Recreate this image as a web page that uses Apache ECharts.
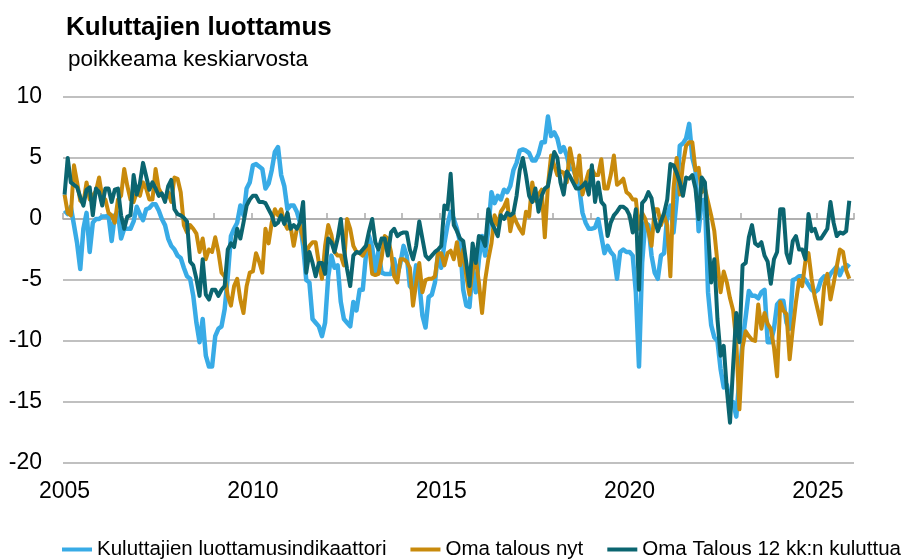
<!DOCTYPE html>
<html><head><meta charset="utf-8">
<script src="https://cdn.jsdelivr.net/npm/echarts@6/dist/echarts.min.js"></script>
<style>html,body{margin:0;padding:0;background:#fff}#c{width:907px;height:559px}</style>
</head><body><div id="c"></div>
<script>
const startYear = 2005, endYear = 2025;
const labelYears = ['2005', '2010', '2015', '2020', '2025'];
const titleText = 'Kuluttajien luottamus';
const subtitleText = 'poikkeama keskiarvosta';
const seriesNames = ['Kuluttajien luottamusindikaattori', 'Oma talous nyt', 'Oma Talous 12 kk:n kuluttua'];

// Monthly values 2005-01 .. 2025-11 (deviation from average)
const luottamus = [
  0.7, 0.4, 1.0, -0.5, -2.0, -4.1, -0.8, 0.5, -2.7, -0.3, 0.0, 0.0,
  0.2, 0.2, 0.3, -1.8, 0.3, 0.5, -1.6, -0.8, -0.8, -0.8, -0.2, 1.0,
  0.4, -0.1, 0.8, 0.9, 1.2, 1.2, 0.7, 0.0, -0.5, -1.6, -2.2, -2.5,
  -3.0, -3.2, -4.0, -4.7, -4.9, -6.3, -8.5, -10.1, -8.2, -11.2, -12.1, -12.1,
  -9.6, -9.0, -8.8, -7.4, -4.7, -1.4, -0.8, -0.3, 1.1, 0.3, 2.5, 3.0,
  4.4, 4.5, 4.3, 4.1, 2.5, 2.9, 4.0, 5.5, 5.9, 3.6, 2.7, 0.8,
  1.1, 1.1, 0.6, -0.3, -2.2, -5.0, -5.2, -8.2, -8.5, -8.8, -9.6, -8.5,
  -4.7, -3.0, -4.0, -3.8, -6.8, -8.2, -8.5, -8.8, -6.8, -7.5, -5.8, -5.8,
  -3.0, -1.4, -2.3, -4.4, -2.6, -4.4, -4.5, -4.5, -4.5, -3.3, -4.6, -3.6,
  -2.2, -3.0, -5.5, -5.8, -3.8, -5.2, -7.9, -8.9, -6.4, -6.2, -5.2, -2.7,
  -4.0, -2.0, -0.5, 0.6, 0.0, -0.8, -1.9, -5.8, -7.1, -7.2, -4.1, -6.0,
  -3.3, -1.4, -3.0, -0.8, 2.2, 1.3, 1.9, 1.6, 2.4, 2.2, 2.7, 4.0,
  4.6, 5.6, 5.7, 5.6, 5.4, 4.8, 4.8, 5.3, 6.3, 6.3, 8.4, 6.8,
  7.1, 6.6, 5.5, 5.9, 5.2, 4.1, 4.1, 3.4, 2.5, 0.5, -0.3, -0.8,
  -0.8, -0.7, 0.0, -1.4, -2.8, -2.2, -2.7, -3.0, -4.9, -2.7, -2.5, -2.7,
  -2.7, -3.0, -6.0, -12.1, -3.6, -0.3, -0.5, -3.0, -4.4, -4.9, -3.0, -2.8,
  0.3, 1.1, -1.1, 1.6, 6.0, 6.2, 6.6, 7.8, 5.0, 4.0, -1.0, 1.5,
  1.6, -6.0, -8.7, -9.7, -10.0, -12.3, -13.8, -13.6, -15.0, -15.0, -16.2, -13.0,
  -10.0, -8.0, -5.9, -6.3, -6.3, -6.5, -6.0, -5.8, -10.1, -10.1, -9.0, -7.0,
  -6.7, -6.7, -8.5, -9.0, -5.0, -4.9, -4.7, -4.7, -5.0, -5.4, -5.8, -6.0,
  -5.8, -5.0, -4.7, -5.0, -4.5, -4.2, -3.9, -4.6, -4.0, -4.0, -3.7
];
const omaTalousNyt = [
  2.0, 0.5, 0.3, 4.4, 3.0, 1.5, 1.3, 3.0, 1.6, 1.9, 2.3, 3.4,
  1.8, 1.6, 0.5, 0.3, -0.3, 1.6, 1.9, 4.1, 2.7, 1.6, 1.4, 2.2,
  1.9, 3.0, 2.5, 1.6, 1.6, 4.1, 2.5, 2.0, 1.6, 2.2, 1.4, 3.4,
  3.3, 2.2, -0.5, -1.1, -0.5, -0.8, -1.2, -2.7, -1.6, -3.3, -2.5, -2.7,
  -1.5, -2.7, -4.4, -4.7, -6.3, -7.1, -5.5, -4.9, -6.6, -7.7, -5.5, -4.4,
  -4.3, -2.8, -3.5, -4.4, -0.8, -2.0, -0.3, 0.8, 0.3, 0.8, -0.3, -0.8,
  -0.6, -2.2, -0.8, -0.5, -1.6, -2.7, -2.2, -1.9, -1.9, -3.6, -4.9, -2.2,
  -0.5, -1.3, -2.7, -3.0, -3.0, -3.8, 0.0, -0.8, -2.2, -2.7, -2.8, -3.0,
  -2.5, -2.2, -4.5, -4.6, -4.5, -3.2, -1.4, -1.6, -2.7, -4.7, -5.2, -3.3,
  -3.3, -3.5, -4.0, -7.1, -5.3, -3.6, -6.0, -5.0, -4.9, -4.9, -4.7, -2.8,
  -2.8, -3.8, -2.8, -2.6, -3.3, -1.9, -3.8, -2.5, -4.7, -6.2, -4.2, -3.2,
  -5.2, -7.7, -5.0, -3.3, -2.0, 0.3, -0.5, 0.6, 1.0, 1.6, -1.0, 0.3,
  -0.3, -0.8, -1.2, 0.6, 0.2, 3.0, 1.5, 2.0, 2.4, -1.5, 2.8, 5.2,
  4.4, 3.6, 3.9, 3.8, 3.0, 5.8, 4.5, 3.0, 5.2, 2.0, 3.0, 3.9,
  4.1, 3.6, 3.6, 4.9, 2.5, 2.5, 3.6, 5.2, 2.8, 3.0, 3.3, 2.2,
  2.0, 1.6, 1.6, -0.8, 0.5, 0.0, -1.0, -2.2, 0.8, 0.8, -0.5, 0.3,
  -0.5, -4.7, 2.5, 5.0, 2.0, 4.5, 6.0, 6.3, 6.3, 4.0, 4.2, 2.2,
  2.5, 1.4, 0.3, -1.0, -3.6, -6.0, -4.3, -5.2, -6.5, -7.5, -10.1, -15.6,
  -10.5, -9.2, -9.6, -9.9, -10.0, -7.0, -9.0, -7.7, -8.6, -9.0, -10.5, -12.9,
  -6.8, -7.5, -7.8, -11.5, -9.0, -6.8, -5.0, -5.5, -3.5, -2.8, -4.9, -6.4,
  -7.5, -8.6, -5.5, -4.5, -6.6, -5.3, -3.9, -2.5, -2.7, -4.2, -4.9
];
const omaTalous12kk = [
  2.0, 5.0, 3.0, 2.8, 2.6, 1.8, 1.1, 2.4, 2.6, 0.3, 2.5, 2.2,
  1.1, 2.5, 2.5, 1.4, 2.4, 2.5, 0.3, -0.8, 0.2, 0.3, 3.6, 2.0,
  2.9, 4.6, 3.5, 2.4, 3.0, 2.5, 1.9, 2.1, 1.4, 2.7, 3.2, 0.8,
  0.4, 0.3, 0.1, -0.2, -3.5, -3.8, -4.9, -6.3, -3.3, -6.2, -6.6, -5.8,
  -5.8, -6.3, -5.8, -5.5, -2.5, -2.0, -2.3, -0.8, -1.6, -0.3, 1.1, 1.6,
  1.9, 1.9, 1.4, 1.4, 1.3, 0.8, 0.3, -0.5, -0.3, 0.3, -0.4, 0.5,
  -0.8, -0.5, -0.8, -0.3, 1.4, -4.4, -2.7, -3.6, -4.7, -3.6, -3.6, -4.5,
  -1.6, -1.9, -2.7, -1.6, 0.0, -2.5, -4.1, -5.5, -3.0, -2.7, -2.8, -2.5,
  -2.2, -1.0, 0.0, -1.9, -2.5, -1.6, -1.6, -3.0, -1.1, -0.8, -1.4, -1.2,
  -1.1, -1.1, -2.5, -3.3, -2.2, -0.2, -1.6, -3.0, -3.3, -3.0, -2.7, -2.5,
  -2.2, 1.1, 0.8, 3.7, -0.5, -1.0, -1.6, -1.8, -3.6, -5.5, -2.0, -3.6,
  -1.4, -1.5, -2.2, 0.8, -0.3, -0.8, -1.4, 0.3, 0.0, 0.5, 0.3, 0.5,
  1.9, 4.0, 5.0, 3.6, 1.9, 1.4, 2.5, 0.6, 1.9, 2.5, 2.7, 4.1,
  5.5, 5.0, 3.0, 2.0, 3.9, 3.5, 3.0, 2.5, 2.5, 2.7, 3.0, 2.0,
  4.4, 1.4, 3.0, 1.4, 1.1, -1.4, -0.3, 0.3, 0.6, 1.0, 1.0, 0.8,
  0.3, -1.1, 0.8, -5.8, 1.3, 1.6, 2.2, 1.7, 0.0, -1.0, -0.2, 0.5,
  1.6, 4.5, 4.4, 3.8, 3.0, 1.9, 3.4, 3.3, 3.6, 2.5, 0.0, 3.4,
  3.0, -1.0, -5.2, -3.3, -8.2, -11.2, -10.4, -14.0, -16.7, -12.0, -7.7, -10.1,
  -3.8, -3.6, -1.5, -0.5, -2.0, -2.2, -1.9, -3.0, -3.5, -5.3, -3.3, -2.7,
  0.8, 0.8, -2.8, -3.6, -1.8, -1.4, -2.5, -2.5, -3.3, 0.4, -1.0, -0.8,
  -1.6, -1.6, -1.2, -0.8, 1.4, -0.3, -1.4, -1.1, -1.2, -1.0, 1.5
];

const months = [];
for (let y = startYear; y <= endYear; y++) {
  for (let m = 1; m <= 12; m++) months.push(y + '-' + String(m).padStart(2, '0'));
}

const FONT = '"Liberation Sans", Arial, sans-serif';
const colors = ['#38abe6', '#c88a0c', '#0b6570'];
const gridColor = '#ababab';

const chart = echarts.init(document.getElementById('c'), null, {renderer: 'canvas'});
chart.setOption({
  animation: false,
  backgroundColor: '#ffffff',
  textStyle: {fontFamily: FONT},
  title: [
    {text: titleText, left: 61, top: 10,
     textStyle: {fontFamily: FONT, fontSize: 26, fontWeight: 'bold', color: '#000'}},
    {text: subtitleText, left: 63, top: 43,
     textStyle: {fontFamily: FONT, fontSize: 22.5, fontWeight: 'normal', color: '#000'}}
  ],
  legend: {
    data: seriesNames,
    left: 62, top: 539, width: 900, padding: 0,
    icon: 'rect', itemWidth: 30, itemHeight: 4, itemGap: 24,
    textStyle: {fontFamily: FONT, fontSize: 20.5, color: '#000'}
  },
  grid: {left: 63, right: 53, top: 97, bottom: 96, containLabel: false, outerBoundsMode: 'none'},
  xAxis: [
    {
      type: 'category', data: months, position: 'bottom', boundaryGap: true,
      axisLine: {show: false, onZero: false},
      axisTick: {show: false},
      splitLine: {show: false},
      axisLabel: {
        interval: (i, v) => v.endsWith('-01') && labelYears.includes(v.slice(0, 4)),
        formatter: v => v.slice(0, 4),
        fontFamily: FONT, fontSize: 23, color: '#000', margin: 17
      }
    },
    {
      type: 'category', data: months, position: 'top', boundaryGap: true,
      axisLine: {show: true, onZero: true, lineStyle: {color: gridColor, width: 1.5}},
      axisTick: {show: true, inside: false, length: 6,
                 interval: (i, v) => v.endsWith('-01'),
                 lineStyle: {color: gridColor, width: 1.5}},
      axisLabel: {show: false},
      splitLine: {show: false}
    }
  ],
  yAxis: {
    type: 'value', min: -20, max: 10, interval: 5,
    axisLine: {show: false}, axisTick: {show: false},
    splitLine: {show: true, lineStyle: {color: gridColor, width: 1.5}},
    axisLabel: {fontFamily: FONT, fontSize: 23, color: '#000', margin: 21}
  },
  series: [
    {name: seriesNames[0], type: 'line', data: luottamus, xAxisIndex: 0, showSymbol: false, symbol: 'none',
     color: colors[0], lineStyle: {color: colors[0], width: 4.5, join: 'round'}},
    {name: seriesNames[1], type: 'line', data: omaTalousNyt, xAxisIndex: 0, showSymbol: false, symbol: 'none',
     color: colors[1], lineStyle: {color: colors[1], width: 4, join: 'round'}},
    {name: seriesNames[2], type: 'line', data: omaTalous12kk, xAxisIndex: 0, showSymbol: false, symbol: 'none',
     color: colors[2], lineStyle: {color: colors[2], width: 4, join: 'round'}}
  ]
});
</script>
</body></html>
